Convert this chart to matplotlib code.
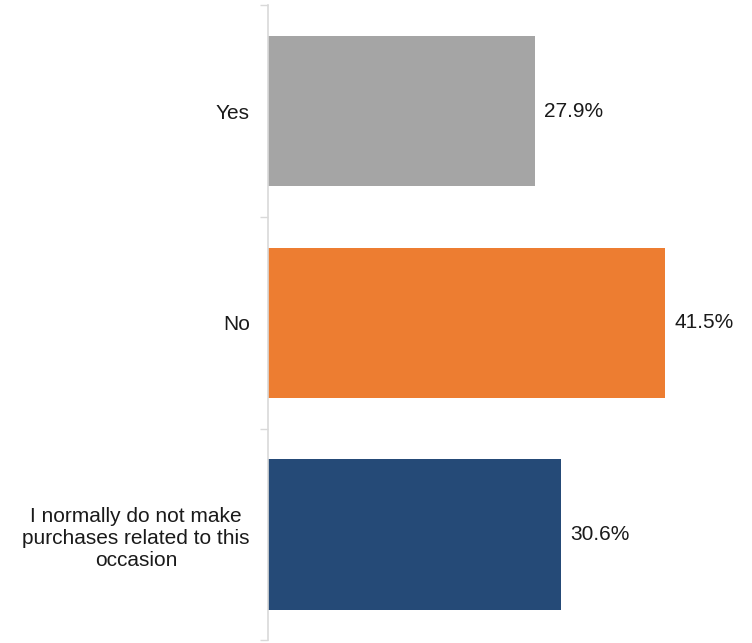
import matplotlib
matplotlib.use("Agg")
import matplotlib.pyplot as plt

# ========= data =========
categories = ["Yes", "No", "I normally do not make\npurchases related to this\noccasion"]
values = [27.9, 41.5, 30.6]
colors = ["#a5a5a5", "#ed7d31", "#254a77"]

plt.rcParams["font.family"] = ["Liberation Sans", "DejaVu Sans"]

fig = plt.figure(figsize=(7.52, 6.43), dpi=100)
ax = fig.add_axes([268 / 752, 0.004, 1 - 268 / 752, 0.988])

pos = list(range(len(categories)))
ax.barh(pos, values, height=0.71, color=colors)

for y, v in zip(pos, values):
    ax.text(v + 1.0, y, f"{v:.1f}%", va="center", ha="left", fontsize=15, color="#1a1a1a")

ax.set_xlim(0, 50.6)
ax.set_ylim(2.5, -0.5)

# category boundary ticks
ax.set_yticks([-0.5, 0.5, 1.5, 2.5])
ax.set_yticklabels([])
ax.tick_params(axis="y", which="major", length=6, color="#d9d9d9", width=1)
ax.set_yticks(pos, minor=True)
ax.set_yticklabels(categories, minor=True, fontsize=15, color="#1a1a1a",
                   multialignment="center", linespacing=1.2)
ax.tick_params(axis="y", which="minor", length=0, pad=13)

ax.set_xticks([])
for s in ["top", "right", "bottom"]:
    ax.spines[s].set_visible(False)
ax.spines["left"].set_color("#d9d9d9")
ax.spines["left"].set_linewidth(1.2)

fig.savefig("out.png", dpi=100)
